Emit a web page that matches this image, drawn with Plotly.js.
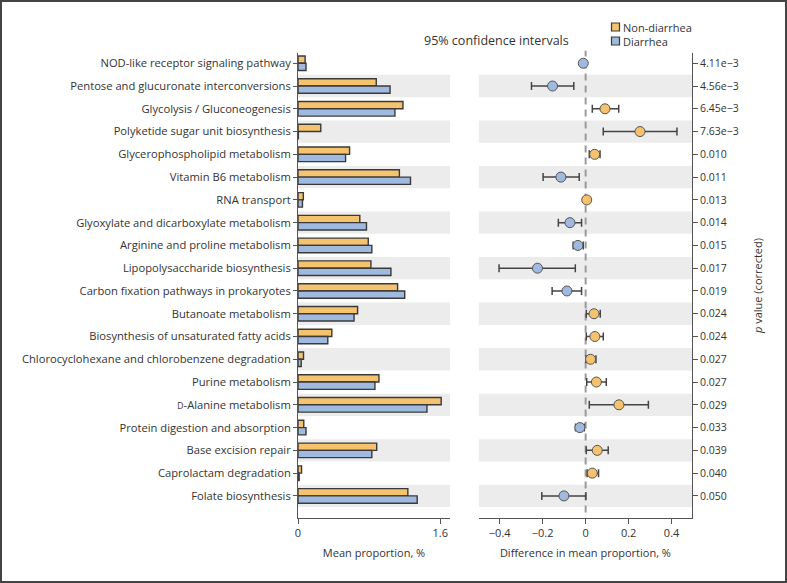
<!DOCTYPE html>
<html>
<head>
<meta charset="utf-8">
<script src="https://cdn.plot.ly/plotly-3.0.1.min.js"></script>
<style>
  html, body { margin: 0; padding: 0; background: #fff; }
  #wrap { position: relative; width: 787px; height: 583px; }
  #chart { width: 787px; height: 583px; }
  #frame { position: absolute; left: 0; top: 0; width: 787px; height: 583px; box-sizing: border-box; border: 2px solid #444; pointer-events: none; }
</style>
</head>
<body>
<div id="wrap"><div id="chart"></div><div id="frame"></div></div>
<script>
const categories = [
  "NOD-like receptor signaling pathway",
  "Pentose and glucuronate interconversions",
  "Glycolysis / Gluconeogenesis",
  "Polyketide sugar unit biosynthesis",
  "Glycerophospholipid metabolism",
  "Vitamin B6 metabolism",
  "RNA transport",
  "Glyoxylate and dicarboxylate metabolism",
  "Arginine and proline metabolism",
  "Lipopolysaccharide biosynthesis",
  "Carbon fixation pathways in prokaryotes",
  "Butanoate metabolism",
  "Biosynthesis of unsaturated fatty acids",
  "Chlorocyclohexane and chlorobenzene degradation",
  "Purine metabolism",
  "<span style='font-size:8.5px'>D</span>-Alanine metabolism",
  "Protein digestion and absorption",
  "Base excision repair",
  "Caprolactam degradation",
  "Folate biosynthesis"
];
const nonDiarrhea = [0.08, 0.88, 1.18, 0.256, 0.58, 1.14, 0.06, 0.695, 0.79, 0.82, 1.12, 0.67, 0.38, 0.062, 0.91, 1.61, 0.065, 0.885, 0.04, 1.235];
const diarrhea    = [0.09, 1.035, 1.09, 0.004, 0.535, 1.265, 0.05, 0.77, 0.83, 1.045, 1.2, 0.63, 0.335, 0.036, 0.865, 1.45, 0.09, 0.83, 0.013, 1.34];
const meanDiff = [-0.011, -0.154, 0.090, 0.253, 0.042, -0.115, 0.005, -0.073, -0.036, -0.224, -0.087, 0.039, 0.043, 0.023, 0.050, 0.155, -0.027, 0.054, 0.031, -0.101];
const ciLow    = [-0.016, -0.252, 0.031, 0.082, 0.017, -0.198, 0.002, -0.127, -0.058, -0.403, -0.156, 0.003, 0.003, 0.002, 0.005, 0.017, -0.047, 0.003, 0.007, -0.204];
const ciHigh   = [-0.006, -0.055, 0.154, 0.425, 0.067, -0.030, 0.008, -0.019, -0.011, -0.048, -0.019, 0.068, 0.082, 0.048, 0.096, 0.292, -0.006, 0.105, 0.060, 0.001];
const pValues = ["4.11e\u22123", "4.56e\u22123", "6.45e\u22123", "7.63e\u22123", "0.010", "0.011", "0.013", "0.014", "0.015", "0.017", "0.019", "0.024", "0.024", "0.027", "0.027", "0.029", "0.033", "0.039", "0.040", "0.050"];
const groupNames = ["Non-diarrhea", "Diarrhea"];
const xTicksLeft = [0, 1.6];
const xTickTextLeft = ["0", "1.6"];
const xTicksRight = [-0.4, -0.2, 0, 0.2, 0.4];
const xTickTextRight = ["\u22120.4", "\u22120.2", "0", "0.2", "0.4"];

const ORANGE = "#F5C26E";
const BLUE = "#A0B9DE";
const EDGE = "#3a3a3a";
const FONT = "Open Sans, sans-serif";
const TXT = "#333";

const traces = [
  { type: "bar", orientation: "h", name: groupNames[0], y: categories, x: nonDiarrhea, showlegend: false,
    xaxis: "x", yaxis: "y", marker: { color: ORANGE, line: { color: EDGE, width: 1.4 } }, hoverinfo: "x" },
  { type: "bar", orientation: "h", name: groupNames[1], y: categories, x: diarrhea, showlegend: false,
    xaxis: "x", yaxis: "y", marker: { color: BLUE, line: { color: EDGE, width: 1.4 } }, hoverinfo: "x" },
  { type: "scatter", mode: "markers", showlegend: false, y: categories, x: meanDiff,
    xaxis: "x2", yaxis: "y2",
    marker: { size: 10, color: meanDiff.map(v => v >= 0 ? ORANGE : BLUE), line: { color: "#555", width: 1 } },
    error_x: { type: "data", symmetric: false,
      array: ciHigh.map((h, i) => h - meanDiff[i]),
      arrayminus: ciLow.map((l, i) => meanDiff[i] - l),
      color: "#444", thickness: 1.5, width: 4 } }
];

const shapes = [];
categories.forEach((c, i) => {
  if (i % 2 === 1) {
    shapes.push({ type: "rect", xref: "x domain", yref: "y", x0: 0, x1: 1, y0: i - 0.49, y1: i + 0.49,
      fillcolor: "#ececec", line: { width: 0 }, layer: "below" });
    shapes.push({ type: "rect", xref: "x2 domain", yref: "y2", x0: 0, x1: 1, y0: i - 0.49, y1: i + 0.49,
      fillcolor: "#ececec", line: { width: 0 }, layer: "below" });
  }
});
shapes.push({ type: "line", xref: "x2", yref: "paper", x0: 0, x1: 0, y0: 0.012, y1: 1.005,
  line: { color: "#9a9a9a", width: 2, dash: "7px,5px" }, layer: "below" });

// legend (manual, small squares as in the original)
const legendColors = [ORANGE, BLUE];
const legendY = [1.0559, 1.0258];
const annotations = [
  { text: "95% confidence intervals", xref: "paper", yref: "paper", x: 0.503, y: 1.027,
    xanchor: "center", yanchor: "middle", showarrow: false, font: { size: 12.5, color: TXT } }
];
groupNames.forEach((g, k) => {
  shapes.push({ type: "rect", xref: "paper", yref: "paper", x0: 0.7957, x1: 0.816,
    y0: legendY[k] - 0.0086, y1: legendY[k] + 0.0086,
    fillcolor: legendColors[k], line: { color: EDGE, width: 1.2 } });
  annotations.push({ text: g, xref: "paper", yref: "paper", x: 0.8224, y: legendY[k],
    xanchor: "left", yanchor: "middle", showarrow: false, borderpad: 0,
    font: { size: 11, color: TXT } });
});

const yRange = [19.97, -0.45];

const layout = {
  width: 787, height: 583,
  margin: { l: 298, r: 95, t: 53, b: 65 },
  paper_bgcolor: "rgba(0,0,0,0)", plot_bgcolor: "rgba(0,0,0,0)",
  font: { family: FONT, size: 11, color: TXT },
  barmode: "group", bargap: 0.36, bargroupgap: 0,
  showlegend: false,
  xaxis: { domain: [0, 0.386], range: [0, 1.71], tickvals: xTicksLeft, ticktext: xTickTextLeft,
    showgrid: false, zeroline: false, showline: true, linecolor: "#555", linewidth: 1,
    ticks: "outside", ticklen: 5, tickcolor: "#555",
    title: { text: "Mean proportion, %", font: { size: 11, color: TXT }, standoff: 10 } },
  yaxis: { domain: [0, 1], type: "category", range: yRange, showgrid: false, zeroline: false,
    showline: true, linecolor: "#555", linewidth: 1, ticks: "outside", ticklen: 4, tickcolor: "#555",
    tickfont: { size: 11.2, color: TXT } },
  xaxis2: { domain: [0.459, 1], range: [-0.497, 0.495], anchor: "y2",
    tickvals: xTicksRight, ticktext: xTickTextRight,
    showgrid: false, zeroline: false, showline: true, linecolor: "#555", linewidth: 1,
    ticks: "outside", ticklen: 5, tickcolor: "#555",
    title: { text: "Difference in mean proportion, %", font: { size: 11, color: TXT }, standoff: 10 } },
  yaxis2: { domain: [0, 1], anchor: "x2", side: "right", type: "category", range: yRange,
    tickvals: categories, ticktext: pValues,
    showgrid: false, zeroline: false, showline: true, linecolor: "#555", linewidth: 1,
    ticks: "outside", ticklen: 5, tickcolor: "#555", tickfont: { size: 10.5, color: TXT },
    title: { text: "<i>p</i> value (corrected)", font: { size: 11, color: TXT }, standoff: 16 } },
  shapes: shapes,
  annotations: annotations
};

Plotly.newPlot("chart", traces, layout, { displayModeBar: false, staticPlot: true });
</script>
</body>
</html>
